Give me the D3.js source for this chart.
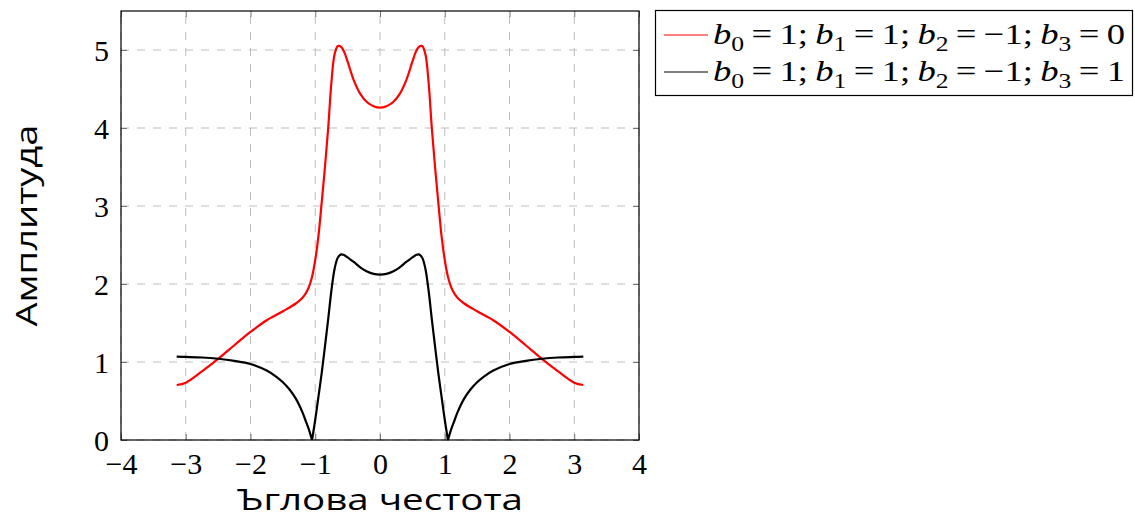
<!DOCTYPE html>
<html>
<head>
<meta charset="utf-8">
<script src="https://cdn.jsdelivr.net/npm/d3@7"></script>
<style>
  html, body { margin: 0; padding: 0; background: #fff; }
  svg { display: block; }
</style>
</head>
<body>
<svg id="chart" width="1135" height="519"></svg>
<script>
// ---- data ----
const xTicks = [-4, -3, -2, -1, 0, 1, 2, 3, 4];
const yTicks = [0, 1, 2, 3, 4, 5];
const xTickLabels = ["\u22124", "\u22123", "\u22122", "\u22121", "0", "1", "2", "3", "4"];
const yTickLabels = ["0", "1", "2", "3", "4", "5"];

const redX = [-3.14,-3,-2.75,-2.5,-2.25,-2,-1.75,-1.5,-1.3,-1.2,-1.12,-1.05,-1,-0.95,-0.9,-0.85,-0.8,-0.75,-0.7,-0.65,-0.6,-0.55,-0.5,-0.4,-0.3,-0.2,-0.1,0,
              0.1,0.2,0.3,0.4,0.5,0.55,0.6,0.65,0.7,0.75,0.8,0.85,0.9,0.95,1,1.05,1.12,1.2,1.3,1.5,1.75,2,2.25,2.5,2.75,3,3.14];
const redY = [0.705,0.735,0.88,1.04,1.215,1.385,1.535,1.65,1.75,1.82,1.92,2.09,2.31,2.62,3.05,3.5,4.0,4.59,4.95,5.05,5.04,4.97,4.85,4.60,4.43,4.33,4.28,4.26,
              4.28,4.33,4.43,4.60,4.85,4.97,5.04,5.05,4.95,4.59,4.0,3.5,3.05,2.62,2.31,2.09,1.92,1.82,1.75,1.65,1.535,1.385,1.215,1.04,0.88,0.735,0.705];

const blackX = [-3.14,-3,-2.75,-2.5,-2.25,-2,-1.75,-1.6,-1.5,-1.4,-1.3,-1.2,-1.15,-1.1,-1.05,-1,-0.95,-0.9,-0.85,-0.8,-0.75,-0.7,-0.65,-0.6,-0.55,-0.5,-0.4,-0.3,-0.2,-0.1,0,
                0.1,0.2,0.3,0.4,0.5,0.55,0.6,0.65,0.7,0.75,0.8,0.85,0.9,0.95,1,1.05,1.1,1.15,1.2,1.3,1.4,1.5,1.6,1.75,2,2.25,2.5,2.75,3,3.14];
const blackY = [1.068,1.065,1.058,1.042,1.015,0.975,0.89,0.81,0.74,0.65,0.53,0.36,0.25,0.14,0,0.26,0.56,0.86,1.2,1.55,1.92,2.2,2.34,2.38,2.37,2.34,2.28,2.21,2.16,2.13,2.12,
                2.13,2.16,2.21,2.28,2.34,2.37,2.38,2.34,2.2,1.92,1.55,1.2,0.86,0.56,0.26,0,0.14,0.25,0.36,0.53,0.65,0.74,0.81,0.89,0.975,1.015,1.042,1.058,1.065,1.068];

const seriesNames = ["b0=1;b1=1;b2=-1;b3=0", "b0=1;b1=1;b2=-1;b3=1"];
const legendParts = [
  [["b","0"],"1"],[["b","1"],"1"],[["b","2"],"\u22121"],[["b","3"],"0"]
];
const legendLast = ["0", "1"];
const xTitle = "Ъглова честота";
const yTitle = "Амплитуда";

// ---- drawing ----
const svg = d3.select("#chart");
const L = 121, R = 639, T = 11, B = 440;
const x = d3.scaleLinear().domain([-4, 4]).range([L, R]);
const y = d3.scaleLinear().domain([0, 5.5]).range([B, T]);

const serif = "'Liberation Serif', 'DejaVu Serif', serif";
const sans = "'Open Sans', 'Noto Sans', sans-serif";

// grid
const grid = svg.append("g");
grid.selectAll("line.v").data(xTicks).enter().append("line")
  .attr("x1", d => x(d)).attr("x2", d => x(d)).attr("y1", B).attr("y2", T)
  .attr("stroke", "#bdbdbd").attr("stroke-width", 1).attr("stroke-dasharray", "8,8");
grid.selectAll("line.h").data(yTicks).enter().append("line")
  .attr("x1", L).attr("x2", R).attr("y1", d => y(d)).attr("y2", d => y(d))
  .attr("stroke", "#bdbdbd").attr("stroke-width", 1).attr("stroke-dasharray", "8,8");

// axes with inner ticks on all sides
const tickLen = 6;
const axB = svg.append("g").attr("transform", `translate(0,${B})`)
  .call(d3.axisBottom(x).tickValues(xTicks).tickSize(-tickLen).tickFormat((d,i) => xTickLabels[i]).tickPadding(13));
const axT = svg.append("g").attr("transform", `translate(0,${T})`)
  .call(d3.axisTop(x).tickValues(xTicks).tickSize(-tickLen).tickFormat(""));
const axL = svg.append("g").attr("transform", `translate(${L},0)`)
  .call(d3.axisLeft(y).tickValues(yTicks).tickSize(-tickLen).tickFormat((d,i) => yTickLabels[i]).tickPadding(12));
const axR = svg.append("g").attr("transform", `translate(${R},0)`)
  .call(d3.axisRight(y).tickValues(yTicks).tickSize(-tickLen).tickFormat(""));
[axB, axT, axL, axR].forEach(a => {
  a.select(".domain").remove();
  a.selectAll(".tick line").attr("stroke", "#777").attr("stroke-width", 1);
  a.selectAll("text").attr("font-family", serif).attr("font-size", 30).attr("fill", "#000");
});
axB.selectAll("text").attr("dy", "0.71em");
axL.selectAll("text").attr("dy", "0.34em");

// frame
svg.append("rect").attr("x", L).attr("y", T).attr("width", R - L).attr("height", B - T)
  .attr("fill", "none").attr("stroke", "#000").attr("stroke-width", 1.2);

// curves
const line = d3.line().x(d => x(d[0])).y(d => y(d[1])).curve(d3.curveCatmullRom.alpha(0.5));
const redData = redX.map((v, i) => [v, redY[i]]);
const blackData = blackX.map((v, i) => [v, blackY[i]]);
// split the black series at its zeros so the cusps stay sharp
const blackSegs = [];
let seg = [];
blackData.forEach(p => {
  seg.push(p);
  if (p[1] === 0) { blackSegs.push(seg); seg = [p]; }
});
blackSegs.push(seg);
svg.append("path").datum(redData).attr("d", line)
  .attr("fill", "none").attr("stroke", "#ff0000").attr("stroke-width", 2.2).attr("stroke-linejoin", "round");
svg.append("path").attr("d", blackSegs.map(s => line(s)).join(""))
  .attr("fill", "none").attr("stroke", "#000").attr("stroke-width", 2.2).attr("stroke-linejoin", "round");

// axis titles
svg.append("text").attr("x", (L + R) / 2).attr("y", 510).attr("text-anchor", "middle")
  .attr("font-family", sans).attr("font-size", 29).attr("textLength", 286).attr("lengthAdjust", "spacingAndGlyphs")
  .text(xTitle);
svg.append("text").attr("transform", `translate(37,${(T + B) / 2}) rotate(-90)`).attr("text-anchor", "middle")
  .attr("font-family", sans).attr("font-size", 29).attr("textLength", 202).attr("lengthAdjust", "spacingAndGlyphs")
  .text(yTitle);

// legend
const lg = svg.append("g");
lg.append("rect").attr("x", 655.5).attr("y", 10.5).attr("width", 477).attr("height", 85)
  .attr("fill", "#fff").attr("stroke", "#000").attr("stroke-width", 1.2);
const colors = ["#ff0000", "#000"];
const rowY = [35, 72];
const baseY = [44, 81];
seriesNames.forEach((name, k) => {
  lg.append("line").attr("x1", 664).attr("x2", 708).attr("y1", rowY[k]).attr("y2", rowY[k])
    .attr("stroke", colors[k]).attr("stroke-width", 1.2);
  const t = lg.append("text").attr("x", 713).attr("y", baseY[k])
    .attr("font-family", serif).attr("font-size", 30).attr("fill", "#000")
    .attr("textLength", 412).attr("lengthAdjust", "spacingAndGlyphs");
  legendParts.forEach((p, j) => {
    t.append("tspan").attr("font-style", "italic").text(p[0][0]);
    t.append("tspan").attr("font-size", 21).attr("dy", 7).text(p[0][1]);
    const val = j === 3 ? legendLast[k] : p[1];
    t.append("tspan").attr("dy", -7).text("\u2009=\u2009" + val + (j < 3 ? ";\u2009" : ""));
  });
});
</script>
</body>
</html>
